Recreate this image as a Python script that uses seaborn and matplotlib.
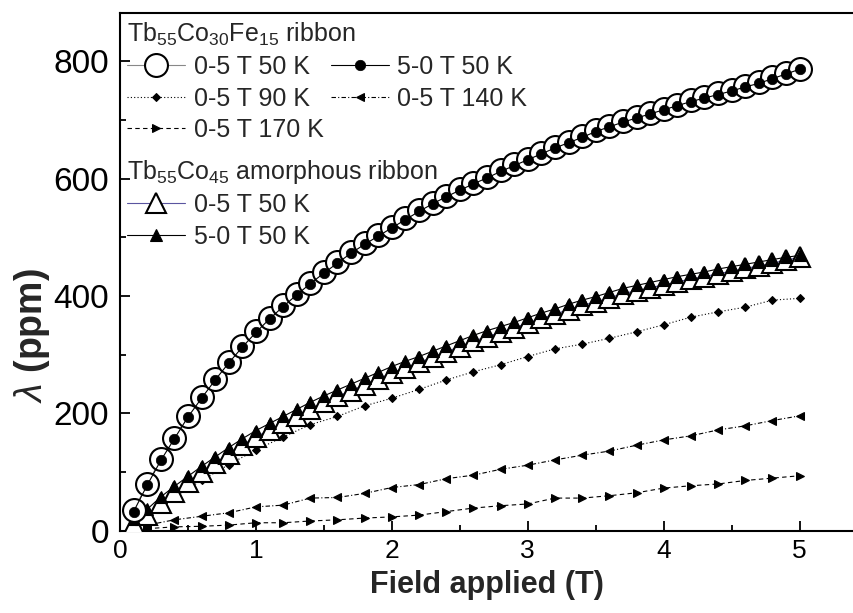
import numpy as np
import pandas as pd
import matplotlib
matplotlib.use("Agg")
import matplotlib.pyplot as plt
import seaborn as sns
from matplotlib.ticker import MultipleLocator

# ---------------- data ----------------
field_01 = [round(0.1 * i, 1) for i in range(1, 51)]
field_02 = [round(0.2 * i, 1) for i in range(1, 26)]

fe_50K_up = [35, 80, 122, 159, 196, 228, 259, 288, 315, 340,
             363, 384, 404, 423, 441, 458, 475, 490, 504, 518,
             532, 546, 559, 571, 582, 593, 603, 614, 624, 634,
             644, 654, 663, 672, 682, 690, 698, 705, 712, 719,
             726, 733, 739, 745, 751, 758, 764, 772, 780, 787]
fe_50K_down = [33, 78, 120, 157, 194, 226, 257, 286, 313, 338,
               361, 382, 402, 421, 439, 456, 473, 488, 502, 516,
               530, 544, 557, 569, 580, 591, 601, 612, 622, 632,
               642, 652, 661, 670, 680, 688, 696, 703, 710, 717,
               724, 731, 737, 743, 749, 756, 762, 770, 778, 786]
fe_90K = [28, 58, 86, 113, 138, 160, 181, 195, 213, 226,
          241, 257, 271, 283, 297, 310, 318, 328, 339, 351,
          364, 373, 381, 393, 396]
fe_140K = [10, 19, 25, 31, 41, 44, 56, 57, 64, 74,
           79, 89, 95, 105, 112, 121, 129, 136, 146, 155,
           162, 172, 179, 188, 196]
fe_170K = [4, 7, 8, 10, 14, 14, 17, 19, 22, 24,
           27, 33, 39, 43, 46, 56, 56, 60, 65, 73,
           77, 80, 86, 90, 94]

co_50K_up = [12, 28, 48, 66, 83, 100, 116, 131, 146, 160,
             172, 184, 196, 208, 219, 229, 239, 249, 259, 269,
             278, 287, 296, 305, 314, 323, 331, 338, 346, 354,
             362, 369, 377, 384, 390, 397, 404, 409, 414, 419,
             424, 429, 433, 438, 442, 447, 451, 456, 461, 466]
co_50K_down = [20, 37, 58, 76, 93, 110, 126, 142, 157, 171,
               183, 195, 207, 219, 230, 240, 250, 260, 270, 280,
               289, 297, 306, 315, 324, 333, 341, 348, 355, 363,
               371, 378, 386, 393, 399, 406, 413, 418, 423, 428,
               433, 437, 441, 446, 450, 454, 458, 462, 466, 469]

labels_fe = ["0-5 T 50 K", "5-0 T 50 K", "0-5 T 90 K", "0-5 T 140 K", "0-5 T 170 K"]
labels_co = ["0-5 T 50 K", "5-0 T 50 K"]
title_fe = r"Tb$_{55}$Co$_{30}$Fe$_{15}$ ribbon"
title_co = r"Tb$_{55}$Co$_{45}$ amorphous ribbon"

# ---------------- figure ----------------
sns.set_theme(style="ticks")
plt.rcParams["font.family"] = ["Liberation Sans", "DejaVu Sans"]
plt.rcParams["mathtext.fontset"] = "custom"
plt.rcParams["mathtext.rm"] = "Liberation Sans"
plt.rcParams["mathtext.it"] = "Liberation Sans:italic"
plt.rcParams["mathtext.bf"] = "Liberation Sans:bold"

fig = plt.figure(figsize=(8.54, 6.13), dpi=100)
ax = fig.add_axes([0.1405, 0.1338, 0.8595, 0.8452])

def draw(x, y, **kw):
    df = pd.DataFrame({"x": x, "y": y})
    sns.lineplot(data=df, x="x", y="y", ax=ax, errorbar=None, sort=False, **kw)
    return ax.get_lines()[-1]

h_co_up = draw(field_01, co_50K_up, color="#5a55a0", lw=0.8, marker="^", ms=15,
               mfc="white", mec="black", mew=1.5, zorder=3)
h_co_dn = draw(field_01, co_50K_down, color="black", lw=0.8, marker="^", ms=8.5,
               mfc="black", mec="black", mew=0.8, zorder=4)
h_90 = draw(field_02, fe_90K, color="black", lw=0.8, ls=(0, (1, 2)), marker="D", ms=4.5,
            mfc="black", mec="black", zorder=2)
h_140 = draw(field_02, fe_140K, color="black", lw=0.8, ls=(0, (4, 2, 1, 2)), marker="<", ms=6,
             mfc="black", mec="black", zorder=2)
h_170 = draw(field_02, fe_170K, color="black", lw=0.8, ls=(0, (4, 3)), marker=">", ms=6,
             mfc="black", mec="black", zorder=2)
h_fe_up = draw(field_01, fe_50K_up, color="#888888", lw=0.8, marker="o", ms=16.5,
               mfc="white", mec="black", mew=1.5, zorder=5)
h_fe_dn = draw(field_01, fe_50K_down, color="black", lw=0.8, marker="o", ms=7.5,
               mfc="black", mec="black", mew=0.5, zorder=6)

ax.set_xlim(0, 5.4)
ax.set_ylim(0, 882)
ax.xaxis.set_major_locator(MultipleLocator(1))
ax.xaxis.set_minor_locator(MultipleLocator(0.5))
ax.yaxis.set_major_locator(MultipleLocator(200))
ax.yaxis.set_minor_locator(MultipleLocator(100))
ax.tick_params(which="both", direction="in", top=False, right=False, width=1.3, colors="black")
ax.tick_params(which="major", length=7)
ax.tick_params(which="minor", length=4)
ax.tick_params(axis="y", labelsize=24, pad=8)
ax.tick_params(axis="x", labelsize=19, pad=6)
for s in ["left", "bottom", "top"]:
    ax.spines[s].set_linewidth(1.5)
    ax.spines[s].set_color("black")
ax.spines["right"].set_visible(False)

ax.set_xlabel("Field applied (T)", fontsize=22, fontweight="bold", labelpad=5)
ax.set_ylabel(r"$\mathit{\lambda}$ (ppm)", fontsize=27, fontweight="bold")
ax.yaxis.set_label_coords(-0.092, 0.378)

leg_kw = dict(frameon=False, fontsize=18, title_fontsize=18, alignment="left",
              handlelength=2.3, handletextpad=0.35, borderpad=0.15, labelspacing=0.3,
              borderaxespad=0.15)
leg1 = ax.legend([h_fe_up, h_90, h_170, h_fe_dn, h_140],
                 [labels_fe[0], labels_fe[2], labels_fe[4], labels_fe[1], labels_fe[3]],
                 title=title_fe, ncol=2, columnspacing=0.3,
                 loc="upper left", bbox_to_anchor=(0.0, 1.0), **leg_kw)
ax.add_artist(leg1)
leg2 = ax.legend([h_co_up, h_co_dn], labels_co, title=title_co, ncol=1,
                 loc="upper left", bbox_to_anchor=(0.0, 0.735), **leg_kw)

fig.savefig("out.png", dpi=100)
